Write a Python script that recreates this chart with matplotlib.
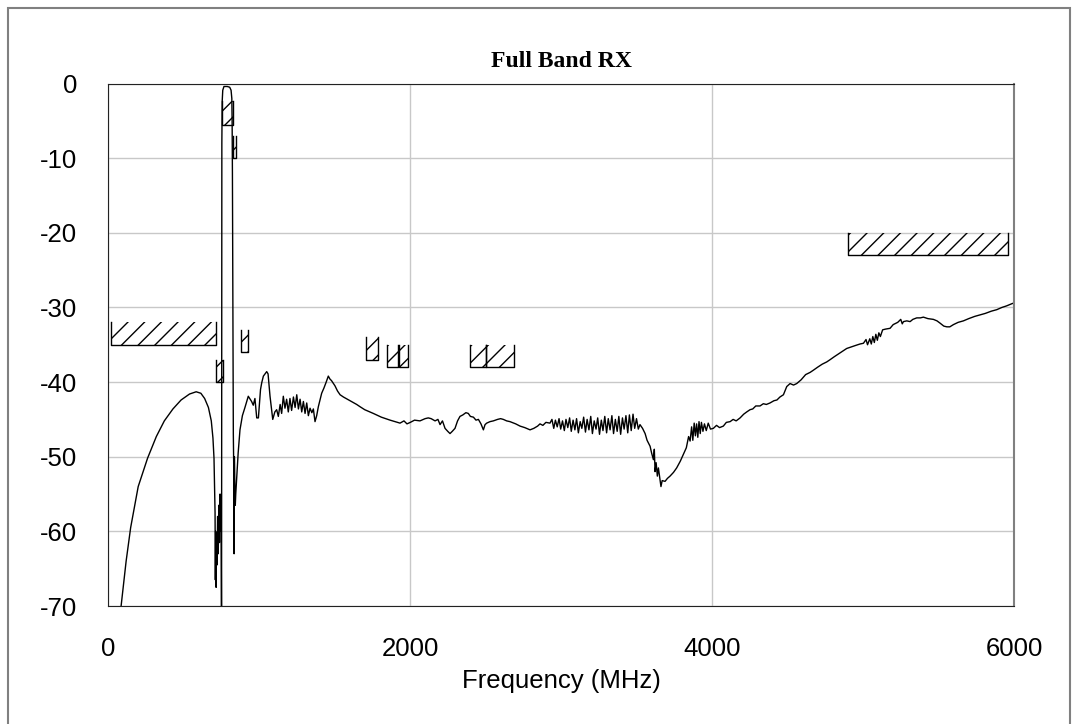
import matplotlib
matplotlib.use("Agg")
import matplotlib.pyplot as plt
from matplotlib.patches import Rectangle

plt.rcParams["axes.unicode_minus"] = False

# measured response (MHz, dB)
freq = [84, 120, 150, 200, 262, 320, 373, 430, 484, 540, 584, 615, 640, 665, 684, 695, 702, 706, 709,
        711, 713, 716, 719, 722, 726, 730, 734, 738, 742, 746, 749, 752, 753, 754, 756, 760, 768, 790,
        806, 815, 820, 822, 824, 826, 828, 830, 833, 835, 837, 840, 843, 846, 852, 862, 874, 890, 907,
        929, 951, 962, 973, 985, 996, 1010, 1018, 1029, 1051, 1060, 1073, 1091, 1105, 1117, 1128, 1140,
        1150, 1161, 1172, 1183, 1194, 1205, 1216, 1228, 1239, 1250, 1261, 1272, 1283, 1294, 1305, 1316,
        1327, 1338, 1350, 1360, 1371, 1382, 1393, 1405, 1415, 1430, 1445, 1459, 1470, 1480, 1503, 1520,
        1537, 1559, 1603, 1647, 1669, 1700, 1757, 1810, 1868, 1900, 1934, 1960, 1980, 2002, 2030, 2066,
        2100, 2121, 2140, 2166, 2185, 2199, 2215, 2232, 2250, 2265, 2280, 2298, 2315, 2331, 2350, 2370,
        2386, 2400, 2420, 2437, 2453, 2470, 2486, 2497, 2508, 2530, 2552, 2580, 2600, 2618, 2640, 2662,
        2700, 2729, 2760, 2795, 2820, 2845, 2861, 2880, 2900, 2927, 2940, 2952, 2963, 2975, 2987, 2998,
        3010, 3022, 3033, 3045, 3057, 3068, 3080, 3092, 3103, 3115, 3127, 3138, 3150, 3162, 3173, 3185,
        3197, 3208, 3220, 3232, 3243, 3255, 3267, 3278, 3290, 3302, 3313, 3325, 3337, 3348, 3360, 3372,
        3383, 3395, 3407, 3418, 3430, 3442, 3453, 3465, 3477, 3488, 3500, 3512, 3523, 3540, 3557, 3570,
        3590, 3600, 3612, 3618, 3623, 3630, 3638, 3645, 3656, 3662, 3670, 3689, 3705, 3722, 3745, 3766,
        3790, 3810, 3830, 3845, 3855, 3865, 3873, 3882, 3890, 3898, 3906, 3914, 3922, 3930, 3940, 3950,
        3962, 3975, 3990, 4009, 4030, 4050, 4075, 4095, 4120, 4140, 4160, 4186, 4210, 4230, 4252, 4270,
        4290, 4318, 4340, 4360, 4384, 4410, 4430, 4450, 4473, 4495, 4517, 4540, 4561, 4590, 4620, 4650,
        4672, 4700, 4730, 4760, 4782, 4810, 4840, 4870, 4892, 4920, 4950, 4980, 5003, 5020, 5030, 5045,
        5055, 5065, 5075, 5085, 5095, 5105, 5115, 5130, 5150, 5179, 5200, 5230, 5250, 5260, 5268, 5290,
        5312, 5330, 5356, 5380, 5400, 5430, 5466, 5490, 5510, 5535, 5555, 5575, 5599, 5630, 5665, 5700,
        5740, 5775, 5810, 5850, 5886, 5920, 5950, 5986, 6000]
gain = [-70.5, -64, -59.5, -54, -50.2, -47.3, -45.2, -43.6, -42.4, -41.6, -41.3, -41.5, -42.2, -43.4,
        -45.2, -47.5, -50.2, -54, -57.5, -66.5, -60, -67.5, -61, -64.5, -58, -63, -56.5, -61.5, -55, -60,
        -57, -74, -40, -8, -2.5, -0.9, -0.4, -0.4, -0.5, -0.9, -2, -5, -12, -25, -38, -47, -52, -63, -50,
        -54, -56.5, -55, -53, -49.5, -46.4, -44.5, -43.4, -41.9, -42.6, -43.1, -42.2, -44.8, -44.8, -41,
        -40.1, -39.2, -38.6, -38.9, -41.9, -45.0, -44, -43.7, -44.6, -43.0, -44.2, -41.9, -43.5, -42.3,
        -44.0, -42.2, -43.8, -42.0, -43.4, -41.7, -43.6, -42.3, -44.0, -42.6, -44.2, -42.8, -44.5, -43.5,
        -44.1, -43.6, -45.3, -44.5, -43.3, -42.3, -41.5, -40.8, -40.0, -39.2, -39.6, -39.8, -40.5, -41.2,
        -41.7, -42.0, -42.5, -43.0, -43.3, -43.7, -44.2, -44.7, -45.1, -45.3, -45.5, -45.2, -45.6, -45.4,
        -45.1, -45.2, -44.9, -44.8, -44.9, -45.2, -45.0, -45.7, -45.2, -46.2, -46.6, -46.9, -46.6, -46.2,
        -45.2, -44.6, -44.4, -44.1, -44.2, -44.6, -44.7, -45.1, -45.0, -45.6, -46.4, -45.7, -45.5, -45.3,
        -45.2, -45.0, -44.9, -45.0, -45.2, -45.3, -45.6, -45.9, -46.1, -46.4, -46.2, -45.9, -45.6, -45.8,
        -45.4, -45.5, -45.0, -46.2, -45.1, -46.0, -44.9, -46.3, -45.2, -46.5, -45.0, -46.1, -44.8, -46.6,
        -45.1, -46.4, -44.9, -46.8, -45.3, -46.2, -44.7, -46.7, -45.0, -46.4, -44.6, -46.9, -45.2, -46.3,
        -44.8, -47.0, -45.1, -46.5, -44.6, -46.8, -44.9, -46.4, -44.5, -46.9, -45.0, -46.6, -44.6, -47.0,
        -44.8, -46.3, -44.5, -46.8, -44.4, -46.5, -44.3, -46.2, -44.9, -46.3, -45.7, -46.2, -46.9, -47.8,
        -48.6, -49.5, -50.4, -49.0, -52.0, -50.8, -52.6, -51.5, -53.1, -54.0, -53.2, -53.3, -52.9, -52.6,
        -52.1, -51.5, -50.6, -49.7, -48.8, -47.3, -47.9, -46.0, -47.8, -45.5, -47.2, -45.6, -47.4, -45.3,
        -46.9, -45.4, -46.6, -45.6, -46.5, -45.5, -46.3, -46.2, -45.8, -46.1, -45.9, -45.4, -45.3, -45.0,
        -45.2, -44.8, -44.3, -44.0, -43.7, -43.6, -43.2, -43.2, -42.9, -43.0, -42.8, -42.5, -42.4, -42.0,
        -41.7, -40.6, -40.2, -40.4, -40.2, -39.7, -39.0, -38.7, -38.4, -38.0, -37.6, -37.3, -37.0, -36.6,
        -36.2, -35.8, -35.5, -35.3, -35.1, -34.9, -34.8, -34.3, -35.0, -34.2, -34.9, -33.9, -34.7, -33.6,
        -34.4, -33.4, -33.9, -33.0, -32.9, -32.8, -32.3, -32.0, -31.6, -32.2, -31.9, -31.8, -31.9, -31.6,
        -31.4, -31.4, -31.3, -31.5, -31.6, -31.8, -32.1, -32.5, -32.6, -32.6, -32.3, -32.0, -31.8, -31.5,
        -31.2, -31.0, -30.8, -30.5, -30.3, -30.0, -29.8, -29.5, -29.4]

# spec masks: start, stop (MHz), limit, lower edge (dB)
mask_lo = [20, 713, 755, 825, 880, 1710, 1850, 1930, 2400, 2500, 4900]
mask_hi = [713, 760, 830, 850, 925, 1785, 1920, 1990, 2500, 2690, 5960]
mask_top = [-32, -37, -2.3, -7, -33, -34, -35, -35, -35, -35, -20]
mask_bot = [-35, -40, -5.5, -10, -36, -37, -38, -38, -38, -38, -23]

xticks = [0, 2000, 4000, 6000]
yticks = [0, -10, -20, -30, -40, -50, -60, -70]

fig = plt.figure(figsize=(10.78, 7.24), dpi=100)
ax = fig.add_axes([108 / 1078, 118 / 724, 906 / 1078, 522.5 / 724])

for lo, hi, top, bot in zip(mask_lo, mask_hi, mask_top, mask_bot):
    ax.add_patch(Rectangle((lo, bot), hi - lo, top - bot, facecolor="none",
                           edgecolor="black", hatch="//", linewidth=0))
    ax.plot([lo, lo, hi, hi], [top, bot, bot, top], color="black", lw=1)

ax.plot(freq, gain, color="black", lw=1)

ax.set_xlim(0, 6000)
ax.set_ylim(-70, 0)
ax.set_xticks(xticks)
ax.set_yticks(yticks)
ax.grid(color="#c8c8c8", lw=1)
ax.set_axisbelow(True)
ax.tick_params(length=0, labelsize=18.5, pad=22)
for lab in ax.get_xticklabels() + ax.get_yticklabels():
    lab.set_fontfamily("Liberation Sans")
for s in ["left", "bottom", "top"]:
    ax.spines[s].set_color("#222222")
ax.spines["right"].set_color("#808080")
ax.spines["right"].set_linewidth(1.5)

ax.set_xlabel("Frequency (MHz)", fontsize=18.5, fontfamily="Liberation Sans", labelpad=6)
ax.set_title("Full Band RX", fontsize=17, fontweight="bold", fontfamily="Liberation Serif", pad=12)

fig.patches.append(Rectangle((8 / 1078, -0.05), 1062 / 1078, 1.05 - 8 / 724, transform=fig.transFigure,
                             fill=False, edgecolor="#808080", lw=1.5))

fig.savefig("out.png", dpi=100)
